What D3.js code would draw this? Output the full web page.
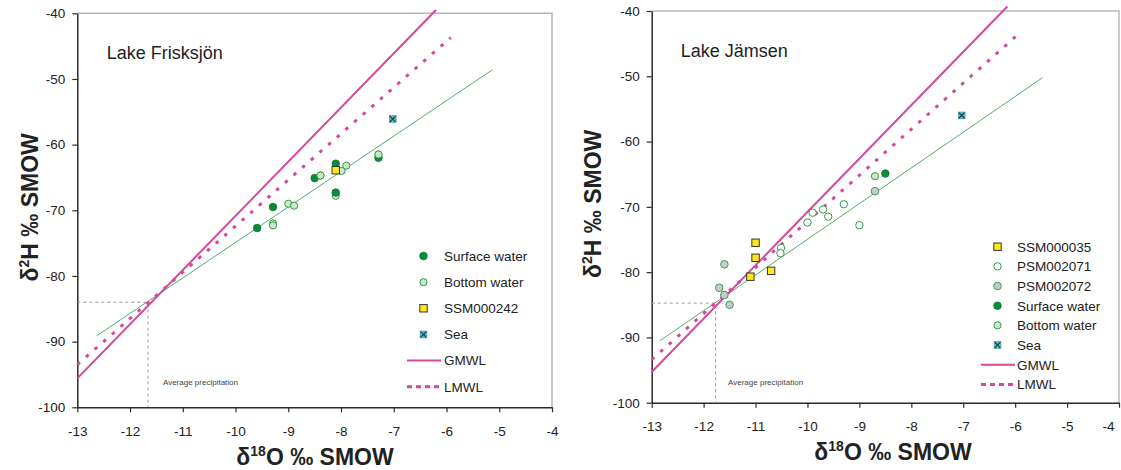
<!DOCTYPE html>
<html>
<head>
<meta charset="utf-8">
<script src="https://cdn.jsdelivr.net/npm/d3@7"></script>
<style>
  html, body { margin: 0; padding: 0; background: #fff; }
  svg { display: block; }
</style>
</head>
<body>
<svg id="chart" width="1121" height="470"></svg>
<script>
// ---------------- DATA ----------------
const xTickValues = [-13, -12, -11, -10, -9, -8, -7, -6, -5, -4];
const yTickValues = [-100, -90, -80, -70, -60, -50, -40];

// Lake Frisksjön  [δ18O, δ2H]
const friskSurface = [[-9.59, -72.7], [-9.29, -69.5], [-8.50, -65.1], [-8.10, -62.9], [-8.10, -67.3], [-7.29, -62.0]];
const friskBottom = [[-9.29, -72.0], [-9.29, -72.3], [-9.00, -69.0], [-8.89, -69.3], [-8.39, -64.7], [-8.10, -67.8], [-7.99, -64.0], [-7.90, -63.2], [-7.29, -61.5]];
const friskSSM000242 = [[-8.10, -63.9]];
const friskSea = [[-7.02, -56.1]];
const friskGMWL = [[-13.0, -95.6], [-6.2, -39.5]];
const friskLMWL = [[-13.0, -93.5], [-5.92, -43.7]];
const friskTrend = [[-12.63, -89.1], [-5.13, -48.6]];
const friskAvgPrecip = [-11.66, -84.0];

// Lake Jämsen
const jamSSM000035 = [[-11.0, -75.5], [-11.0, -77.8], [-10.70, -79.8], [-11.10, -80.7]];
const jamPSM002071 = [[-10.51, -76.3], [-10.52, -77.1], [-10.0, -72.4], [-9.90, -70.9], [-9.70, -70.4], [-9.60, -71.5], [-9.30, -69.6], [-9.0, -72.8]];
const jamPSM002072 = [[-11.60, -78.8], [-11.70, -82.4], [-11.60, -83.5], [-11.50, -85.0], [-8.70, -67.6]];
const jamSurface = [[-8.50, -64.9]];
const jamBottom = [[-8.70, -65.3]];
const jamSea = [[-7.03, -56.0]];
const jamGMWL = [[-13.0, -95.3], [-6.15, -39.3]];
const jamLMWL = [[-13.0, -93.4], [-5.96, -43.7]];
const jamTrend = [[-12.84, -90.5], [-5.47, -50.2]];
const jamAvgPrecip = [-11.77, -84.75];

const friskLegend = [
  { label: "Surface water", type: "surface" },
  { label: "Bottom water", type: "bottom" },
  { label: "SSM000242", type: "ssm" },
  { label: "Sea", type: "sea" },
  { label: "GMWL", type: "gmwl" },
  { label: "LMWL", type: "lmwl" }
];
const jamLegend = [
  { label: "SSM000035", type: "ssm" },
  { label: "PSM002071", type: "psm71" },
  { label: "PSM002072", type: "psm72" },
  { label: "Surface water", type: "surface" },
  { label: "Bottom water", type: "bottom" },
  { label: "Sea", type: "sea" },
  { label: "GMWL", type: "gmwl" },
  { label: "LMWL", type: "lmwl" }
];

// ---------------- STYLE ----------------
const FONT = "'Liberation Sans', Arial, Helvetica, sans-serif";
const PINK = "#d5479a";
const GREEN_DARK = "#0b8a3c";
const GREEN_STROKE = "#2f9c4c";

const svg = d3.select("#chart");

function drawMarker(g, type, cx, cy) {
  if (type === "surface") {
    g.append("circle").attr("cx", cx).attr("cy", cy).attr("r", 3.8)
      .attr("fill", GREEN_DARK).attr("stroke", "#0a7a34").attr("stroke-width", 0.8);
  } else if (type === "bottom") {
    g.append("circle").attr("cx", cx).attr("cy", cy).attr("r", 3.6)
      .attr("fill", "#cfe8c6").attr("stroke", GREEN_STROKE).attr("stroke-width", 1);
  } else if (type === "psm71") {
    g.append("circle").attr("cx", cx).attr("cy", cy).attr("r", 3.7)
      .attr("fill", "#fff").attr("stroke", GREEN_STROKE).attr("stroke-width", 1);
  } else if (type === "psm72") {
    g.append("circle").attr("cx", cx).attr("cy", cy).attr("r", 3.8)
      .attr("fill", "#c8cac8").attr("stroke", "#3f9a62").attr("stroke-width", 1);
  } else if (type === "ssm") {
    g.append("rect").attr("x", cx - 3.7).attr("y", cy - 3.7).attr("width", 7.4).attr("height", 7.4)
      .attr("fill", "#ffe81a").attr("stroke", "#333").attr("stroke-width", 1);
  } else if (type === "sea") {
    g.append("rect").attr("x", cx - 3.4).attr("y", cy - 3.4).attr("width", 6.8).attr("height", 6.8)
      .attr("fill", "#5cc3cc").attr("stroke", "#3c8f98").attr("stroke-width", 0.6);
    g.append("path").attr("d", `M${cx-2.8},${cy-2.8}L${cx+2.8},${cy+2.8}M${cx-2.8},${cy+2.8}L${cx+2.8},${cy-2.8}`)
      .attr("stroke", "#1c3f4a").attr("stroke-width", 1.2);
  }
}

function drawPanel(p) {
  const x = d3.scaleLinear().domain([-13, -4]).range([p.left, p.right]);
  const y = d3.scaleLinear().domain([-100, -40]).range([p.bottom, p.top]);
  const g = svg.append("g");

  // frame (top/right light gray)
  g.append("path")
    .attr("d", `M${x(-13)},${y(-40)}H${x(-4)}V${y(-100)}`)
    .attr("fill", "none").attr("stroke", "#b8b8b8").attr("stroke-width", 1.5);

  // axes
  const xAxis = d3.axisBottom(x).tickValues(xTickValues).tickSize(5).tickSizeOuter(0).tickPadding(14)
    .tickFormat(d => d3.format("d")(d).replace("−", "-"));
  const yAxis = d3.axisLeft(y).tickValues(yTickValues).tickSize(5).tickSizeOuter(0).tickPadding(7)
    .tickFormat(d => d3.format("d")(d).replace("−", "-"));
  const gx = g.append("g").attr("transform", `translate(0,${p.bottom})`).call(xAxis);
  const gy = g.append("g").attr("transform", `translate(${p.left},0)`).call(yAxis);
  [gx, gy].forEach(a => {
    a.select(".domain").attr("stroke", "#2a2a2a").attr("stroke-width", 1.5);
    a.selectAll(".tick line").attr("stroke", "#2a2a2a").attr("stroke-width", 1.2);
    a.selectAll(".tick text").attr("font-family", FONT).attr("font-size", 13.5).attr("fill", "#222");
  });
  if (p.lastTickShift) {
    gx.selectAll(".tick text").filter(d => d === -4).attr("x", p.lastTickShift);
  }

  // average precipitation guide
  const ap = p.avg;
  g.append("path")
    .attr("d", `M${x(-13)},${y(ap[1])}H${x(ap[0])}V${y(-100)}`)
    .attr("fill", "none").attr("stroke", "#9a9a9a").attr("stroke-width", 1).attr("stroke-dasharray", "3,3");
  g.append("text").attr("x", x(ap[0]) + p.avgTextDx).attr("y", y(p.avgTextY))
    .attr("font-family", FONT).attr("font-size", 8).attr("fill", "#444").text("Average precipitation");

  const line = d3.line().x(d => x(d[0])).y(d => y(d[1]));
  g.append("path").datum(p.trend).attr("d", line).attr("fill", "none")
    .attr("stroke", "#3fa55a").attr("stroke-width", 0.9);
  g.append("path").datum(p.lmwl).attr("d", line).attr("fill", "none")
    .attr("stroke", PINK).attr("stroke-width", 3).attr("stroke-dasharray", "3.5,8");
  g.append("path").datum(p.gmwl).attr("d", line).attr("fill", "none")
    .attr("stroke", PINK).attr("stroke-width", 2);

  // points
  p.series.forEach(s => {
    s.data.forEach(d => drawMarker(g, s.type, x(d[0]), y(d[1])));
  });

  // lake title
  g.append("text").attr("x", x(p.titlePos[0])).attr("y", y(p.titlePos[1]))
    .attr("font-family", FONT).attr("font-size", 18).attr("fill", "#222").text(p.title);

  // axis titles
  const xt = g.append("text").attr("x", p.xTitleX).attr("y", p.xTitleY).attr("text-anchor", "middle")
    .attr("font-family", FONT).attr("font-size", 23).attr("font-weight", "bold").attr("fill", "#222");
  xt.append("tspan").text("δ");
  xt.append("tspan").attr("font-size", 14).attr("dy", -9).text("18");
  xt.append("tspan").attr("dy", 9).text("O ‰ SMOW");

  const yt = g.append("text").attr("transform", `translate(${p.yTitleX},${(p.top + p.bottom) / 2 - 3}) rotate(-90)`)
    .attr("text-anchor", "middle")
    .attr("font-family", FONT).attr("font-size", 23).attr("font-weight", "bold").attr("fill", "#222");
  yt.append("tspan").text("δ");
  yt.append("tspan").attr("font-size", 14).attr("dy", -9).text("2");
  yt.append("tspan").attr("dy", 9).text("H ‰ SMOW");

  // legend
  const lg = g.append("g");
  p.legend.forEach((item, i) => {
    const cy = p.legY0 + i * p.legStep;
    if (item.type === "gmwl") {
      lg.append("line").attr("x1", p.legLineX0).attr("x2", p.legLineX1).attr("y1", cy).attr("y2", cy)
        .attr("stroke", PINK).attr("stroke-width", 2);
    } else if (item.type === "lmwl") {
      lg.append("line").attr("x1", p.legLineX0).attr("x2", p.legLineX1).attr("y1", cy).attr("y2", cy)
        .attr("stroke", PINK).attr("stroke-width", 3).attr("stroke-dasharray", "5,4");
    } else {
      drawMarker(lg, item.type, p.legSymX, cy);
    }
    lg.append("text").attr("x", p.legTextX).attr("y", cy).attr("dy", "0.36em")
      .attr("font-family", FONT).attr("font-size", 13.5).attr("fill", "#222").text(item.label);
  });
}

drawPanel({
  left: 77.3, right: 552, top: 13.3, bottom: 407.3,
  avg: friskAvgPrecip, avgTextDx: 15, avgTextY: -96.6,
  trend: friskTrend, lmwl: friskLMWL, gmwl: friskGMWL,
  series: [
    { type: "bottom", data: friskBottom },
    { type: "surface", data: friskSurface.slice(0, 5) },
    { type: "bottom", data: [friskBottom[4]] },
    { type: "surface", data: friskSurface.slice(5) },
    { type: "bottom", data: [friskBottom[8]] },
    { type: "ssm", data: friskSSM000242 },
    { type: "sea", data: friskSea }
  ],
  title: "Lake Frisksjön", titlePos: [-12.44, -46.9],
  xTitleX: 315, xTitleY: 465, yTitleX: 38,
  legend: friskLegend, legY0: 256, legStep: 26.15, legSymX: 423.5, legTextX: 444,
  legLineX0: 407, legLineX1: 441
});

drawPanel({
  left: 651.7, right: 1119, top: 11, bottom: 402.7,
  avg: jamAvgPrecip, avgTextDx: 12.5, avgTextY: -97.3,
  trend: jamTrend, lmwl: jamLMWL, gmwl: jamGMWL,
  series: [
    { type: "psm71", data: jamPSM002071 },
    { type: "psm72", data: jamPSM002072 },
    { type: "ssm", data: jamSSM000035 },
    { type: "surface", data: jamSurface },
    { type: "bottom", data: jamBottom },
    { type: "sea", data: jamSea }
  ],
  title: "Lake Jämsen", titlePos: [-12.44, -47.0],
  xTitleX: 893, xTitleY: 460, yTitleX: 601, lastTickShift: -11,
  legend: jamLegend, legY0: 246.7, legStep: 19.67, legSymX: 997.5, legTextX: 1017,
  legLineX0: 981, legLineX1: 1015
});
</script>
</body>
</html>
